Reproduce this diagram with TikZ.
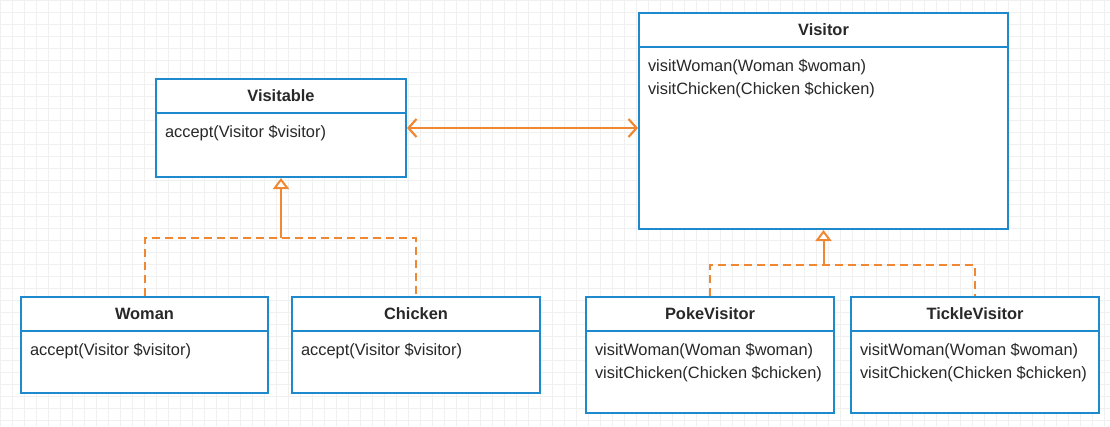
\documentclass[tikz,border=0pt]{standalone}
\usepackage{fontspec}
\setmainfont{Liberation Sans}
\usetikzlibrary{arrows.meta, calc}

\definecolor{umlblue}{RGB}{30,138,205}
\definecolor{umlorange}{RGB}{240,135,50}
\definecolor{umltext}{RGB}{40,40,40}
\definecolor{gridgray}{RGB}{240,240,240}

\tikzset{
    classbox/.style={
        draw=umlblue,
        line width=2pt,
        fill=white,
        inner sep=0pt,
        anchor=north west
    },
    classhead/.style={
        inner sep=0pt,
        minimum height=35pt,
        anchor=north,
        font=\fontsize{16.4}{20}\selectfont\bfseries
    },
    divider/.style={draw=umlblue, line width=2pt},
    method/.style={inner sep=0pt, anchor=base west},
    assoc/.style={
        draw=umlorange,
        line width=2.2pt,
        {Straight Barb[length=8pt,width=18pt]}-{Straight Barb[length=8pt,width=18pt]}
    },
    realize/.style={draw=umlorange, line width=2pt, dash pattern=on 8pt off 5pt},
    inherit/.style={
        draw=umlorange,
        line width=2pt,
        -{Triangle[open, length=11pt, width=16pt, fill=white]}
    }
}

\begin{document}
\begin{tikzpicture}[x=1pt, y=-1pt, font=\fontsize{16.4}{20}\selectfont, text=umltext]

\useasboundingbox (0,0) rectangle (1110,426);
\draw [gridgray, line width=0.6pt, step=12pt] (0,0) grid (1110,426);

% Visitable
\node (visitable) [classbox, minimum width=250pt, minimum height=98pt] at (155,78) {};
\node (visitable-h) [classhead, minimum width=250pt] at (visitable.north) {Visitable};
\draw [divider] (visitable-h.south west) -- (visitable-h.south east);
\node (visitable-m1) [method] at ($(visitable-h.south west)+(9,24)$) {accept(Visitor \$visitor)};

% Visitor
\node (visitor) [classbox, minimum width=369pt, minimum height=216pt] at (638,12) {};
\node (visitor-h) [classhead, minimum width=369pt] at (visitor.north) {Visitor};
\draw [divider] (visitor-h.south west) -- (visitor-h.south east);
\node (visitor-m1) [method] at ($(visitor-h.south west)+(9,24)$) {visitWoman(Woman \$woman)};
\node (visitor-m2) [method] at ($(visitor-h.south west)+(9,47)$) {visitChicken(Chicken \$chicken)};

% Woman
\node (woman) [classbox, minimum width=247pt, minimum height=96pt] at (20,296) {};
\node (woman-h) [classhead, minimum width=247pt] at (woman.north) {Woman};
\draw [divider] (woman-h.south west) -- (woman-h.south east);
\node (woman-m1) [method] at ($(woman-h.south west)+(9,24)$) {accept(Visitor \$visitor)};

% Chicken
\node (chicken) [classbox, minimum width=248pt, minimum height=96pt] at (291,296) {};
\node (chicken-h) [classhead, minimum width=248pt] at (chicken.north) {Chicken};
\draw [divider] (chicken-h.south west) -- (chicken-h.south east);
\node (chicken-m1) [method] at ($(chicken-h.south west)+(9,24)$) {accept(Visitor \$visitor)};

% PokeVisitor
\node (poke) [classbox, minimum width=248pt, minimum height=116pt] at (585,296) {};
\node (poke-h) [classhead, minimum width=248pt] at (poke.north) {PokeVisitor};
\draw [divider] (poke-h.south west) -- (poke-h.south east);
\node (poke-m1) [method] at ($(poke-h.south west)+(9,24)$) {visitWoman(Woman \$woman)};
\node (poke-m2) [method] at ($(poke-h.south west)+(9,47)$) {visitChicken(Chicken \$chicken)};

% TickleVisitor
\node (tickle) [classbox, minimum width=248pt, minimum height=116pt] at (850,296) {};
\node (tickle-h) [classhead, minimum width=248pt] at (tickle.north) {TickleVisitor};
\draw [divider] (tickle-h.south west) -- (tickle-h.south east);
\node (tickle-m1) [method] at ($(tickle-h.south west)+(9,24)$) {visitWoman(Woman \$woman)};
\node (tickle-m2) [method] at ($(tickle-h.south west)+(9,47)$) {visitChicken(Chicken \$chicken)};

% connectors
\draw [assoc] (visitable.east) -- (visitable.east -| visitor.west);

\coordinate (leftjoin) at ($(visitable.south)+(0,60)$);
\draw [realize] (woman.north) |- (leftjoin) -| (chicken.north);
\draw [inherit] (leftjoin) -- (visitable.south);

\coordinate (rightjoin) at ($(visitor.south)+(0,35)$);
\draw [realize] (poke.north) |- (rightjoin) -| (tickle.north);
\draw [inherit] (rightjoin) -- (visitor.south);

\end{tikzpicture}
\end{document}
